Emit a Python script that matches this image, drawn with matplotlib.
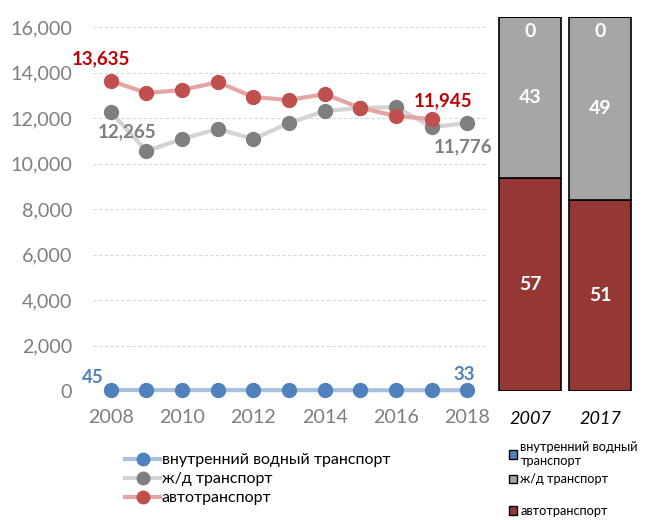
import matplotlib
matplotlib.use("Agg")
import matplotlib.pyplot as plt
from matplotlib.lines import Line2D
from matplotlib.patches import Patch
from matplotlib.ticker import FuncFormatter

plt.rcParams['font.family'] = ['Lato', 'Open Sans', 'DejaVu Sans']

years = list(range(2008, 2019))
water = [45, 42, 40, 39, 38, 37, 36, 35, 34, 34, 33]
rail = [12265, 10550, 11080, 11520, 11080, 11780, 12310, 12440, 12480, 11600, 11776]
auto = [13635, 13100, 13230, 13580, 12920, 12790, 13055, 12440, 12090, 11945]
auto_years = years[:len(auto)]

share_years = ['2007', '2017']
share_auto = [57, 51]
share_rail = [43, 49]
share_water = [0, 0]

labels = ['внутренний водный транспорт', 'ж/д транспорт', 'автотранспорт']

c_water_m, c_water_l, c_water_t = '#4F81BD', '#A7C0E0', '#4F81BD'
c_rail_m, c_rail_l, c_rail_t = '#7F7F7F', '#D3D3D3', '#7F7F7F'
c_auto_m, c_auto_l, c_auto_t = '#C0504D', '#E4A5A4', '#C00000'
bar_auto, bar_rail, bar_water = '#953735', '#A6A6A6', '#4F81BD'

W, H = 645, 520
fig = plt.figure(figsize=(6.45, 5.2), dpi=100)

def rect(x0, y0, x1, y1):
    return [x0 / W, 1 - y1 / H, (x1 - x0) / W, (y1 - y0) / H]

ax = fig.add_axes(rect(93, 27, 487, 391))
for s in ax.spines.values():
    s.set_visible(False)
ax.set_xlim(2007.5, 2018.55)
ax.set_ylim(0, 16000)
ax.set_yticks(range(0, 16001, 2000))
ax.set_xticks(range(2008, 2019, 2))
ax.yaxis.set_major_formatter(FuncFormatter(lambda v, p: f'{int(v):,}'))
ax.tick_params(length=0, labelsize=14.2, colors='#7F7F7F', pad=15)
ax.tick_params(axis='x', pad=13)
ax.grid(axis='y', color='#D9D9D9', linestyle=(0, (3, 2)), linewidth=0.8)
ax.set_axisbelow(True)

lw, ms = 3, 10
ax.plot(years, water, color=c_water_l, lw=lw, zorder=3, clip_on=False)
ax.plot(years, water, 'o', color=c_water_m, ms=ms, zorder=4, clip_on=False)
ax.plot(years, rail, color=c_rail_l, lw=lw, zorder=3)
ax.plot(years, rail, 'o', color=c_rail_m, ms=ms, zorder=4)
ax.plot(auto_years, auto, color=c_auto_l, lw=lw, zorder=5)
ax.plot(auto_years, auto, 'o', color=c_auto_m, ms=ms, zorder=6)

lab = dict(fontsize=13.5, fontweight='bold', ha='center', va='center')
ax.annotate(f'{auto[0]:,}', (years[0], auto[0]), xytext=(-7, 16), textcoords='offset points', color=c_auto_t, **lab)
ax.annotate(f'{rail[0]:,}', (years[0], rail[0]), xytext=(12, -14), textcoords='offset points', color=c_rail_t, **lab)
ax.annotate(f'{auto[-1]:,}', (auto_years[-1], auto[-1]), xytext=(8, 13), textcoords='offset points', color=c_auto_t, **lab)
ax.annotate(f'{rail[-1]:,}', (years[-1], rail[-1]), xytext=(-3, -17), textcoords='offset points', color=c_rail_t, **lab)
ax.annotate(f'{water[0]}', (years[0], water[0]), xytext=(-13, 9), textcoords='offset points', color=c_water_t, **lab)
ax.annotate(f'{water[-1]}', (years[-1], water[-1]), xytext=(-2, 11), textcoords='offset points', color=c_water_t, **lab)

# right stacked bars
bx = fig.add_axes(rect(495, 17, 635, 391))
bx.set_xlim(-0.5, 1.5)
bx.set_ylim(0, 100)
bx.axis('off')
pos = [0, 1]
bw = 0.886
bx.bar(pos, share_auto, width=bw, color=bar_auto, edgecolor='black', linewidth=1.2)
bx.bar(pos, share_rail, width=bw, bottom=share_auto, color=bar_rail, edgecolor='black', linewidth=1.2)
bottom3 = [a + r for a, r in zip(share_auto, share_rail)]
bx.bar(pos, share_water, width=bw, bottom=bottom3, color=bar_water, edgecolor='black', linewidth=1.2)
bl = dict(fontsize=14, fontweight='bold', color='white', ha='center', va='center')
for i in pos:
    bx.text(i, share_auto[i] / 2, str(share_auto[i]), **bl)
    bx.text(i, share_auto[i] + share_rail[i] / 2, str(share_rail[i]), **bl)
    bx.text(i, 96, str(share_water[i]), **bl)
    bx.text(i, -7.5, share_years[i], fontsize=13, style='italic', color='black', ha='center', va='center')

# left legend
handles = [
    Line2D([], [], color=c_water_l, lw=lw, marker='o', mfc=c_water_m, mec=c_water_m, ms=9),
    Line2D([], [], color=c_rail_l, lw=lw, marker='o', mfc=c_rail_m, mec=c_rail_m, ms=9),
    Line2D([], [], color=c_auto_l, lw=lw, marker='o', mfc=c_auto_m, mec=c_auto_m, ms=9),
]
fig.legend(handles, labels, loc='upper left', bbox_to_anchor=(125 / W, 1 - 453 / H),
           frameon=False, fontsize=11.5, handlelength=2.2, handletextpad=0.1,
           labelspacing=0.3, borderaxespad=0, borderpad=0)

# right legend
ph = [Patch(facecolor=bar_water, edgecolor='black'), Patch(facecolor=bar_rail, edgecolor='black')]
fig.legend(ph, ['внутренний водный\nтранспорт', 'ж/д транспорт'], loc='upper left',
           bbox_to_anchor=(509 / W, 1 - 441 / H), frameon=False, fontsize=9.2,
           handlelength=0.6, handleheight=0.6, handletextpad=0.3, labelspacing=0.5,
           borderaxespad=0, borderpad=0)
fig.legend([Patch(facecolor=bar_auto, edgecolor='black')], [labels[2]], loc='upper left',
           bbox_to_anchor=(509 / W, 1 - 505 / H), frameon=False, fontsize=9.2,
           handlelength=0.6, handleheight=0.6, handletextpad=0.3,
           borderaxespad=0, borderpad=0)

fig.savefig('out.png', dpi=100)
